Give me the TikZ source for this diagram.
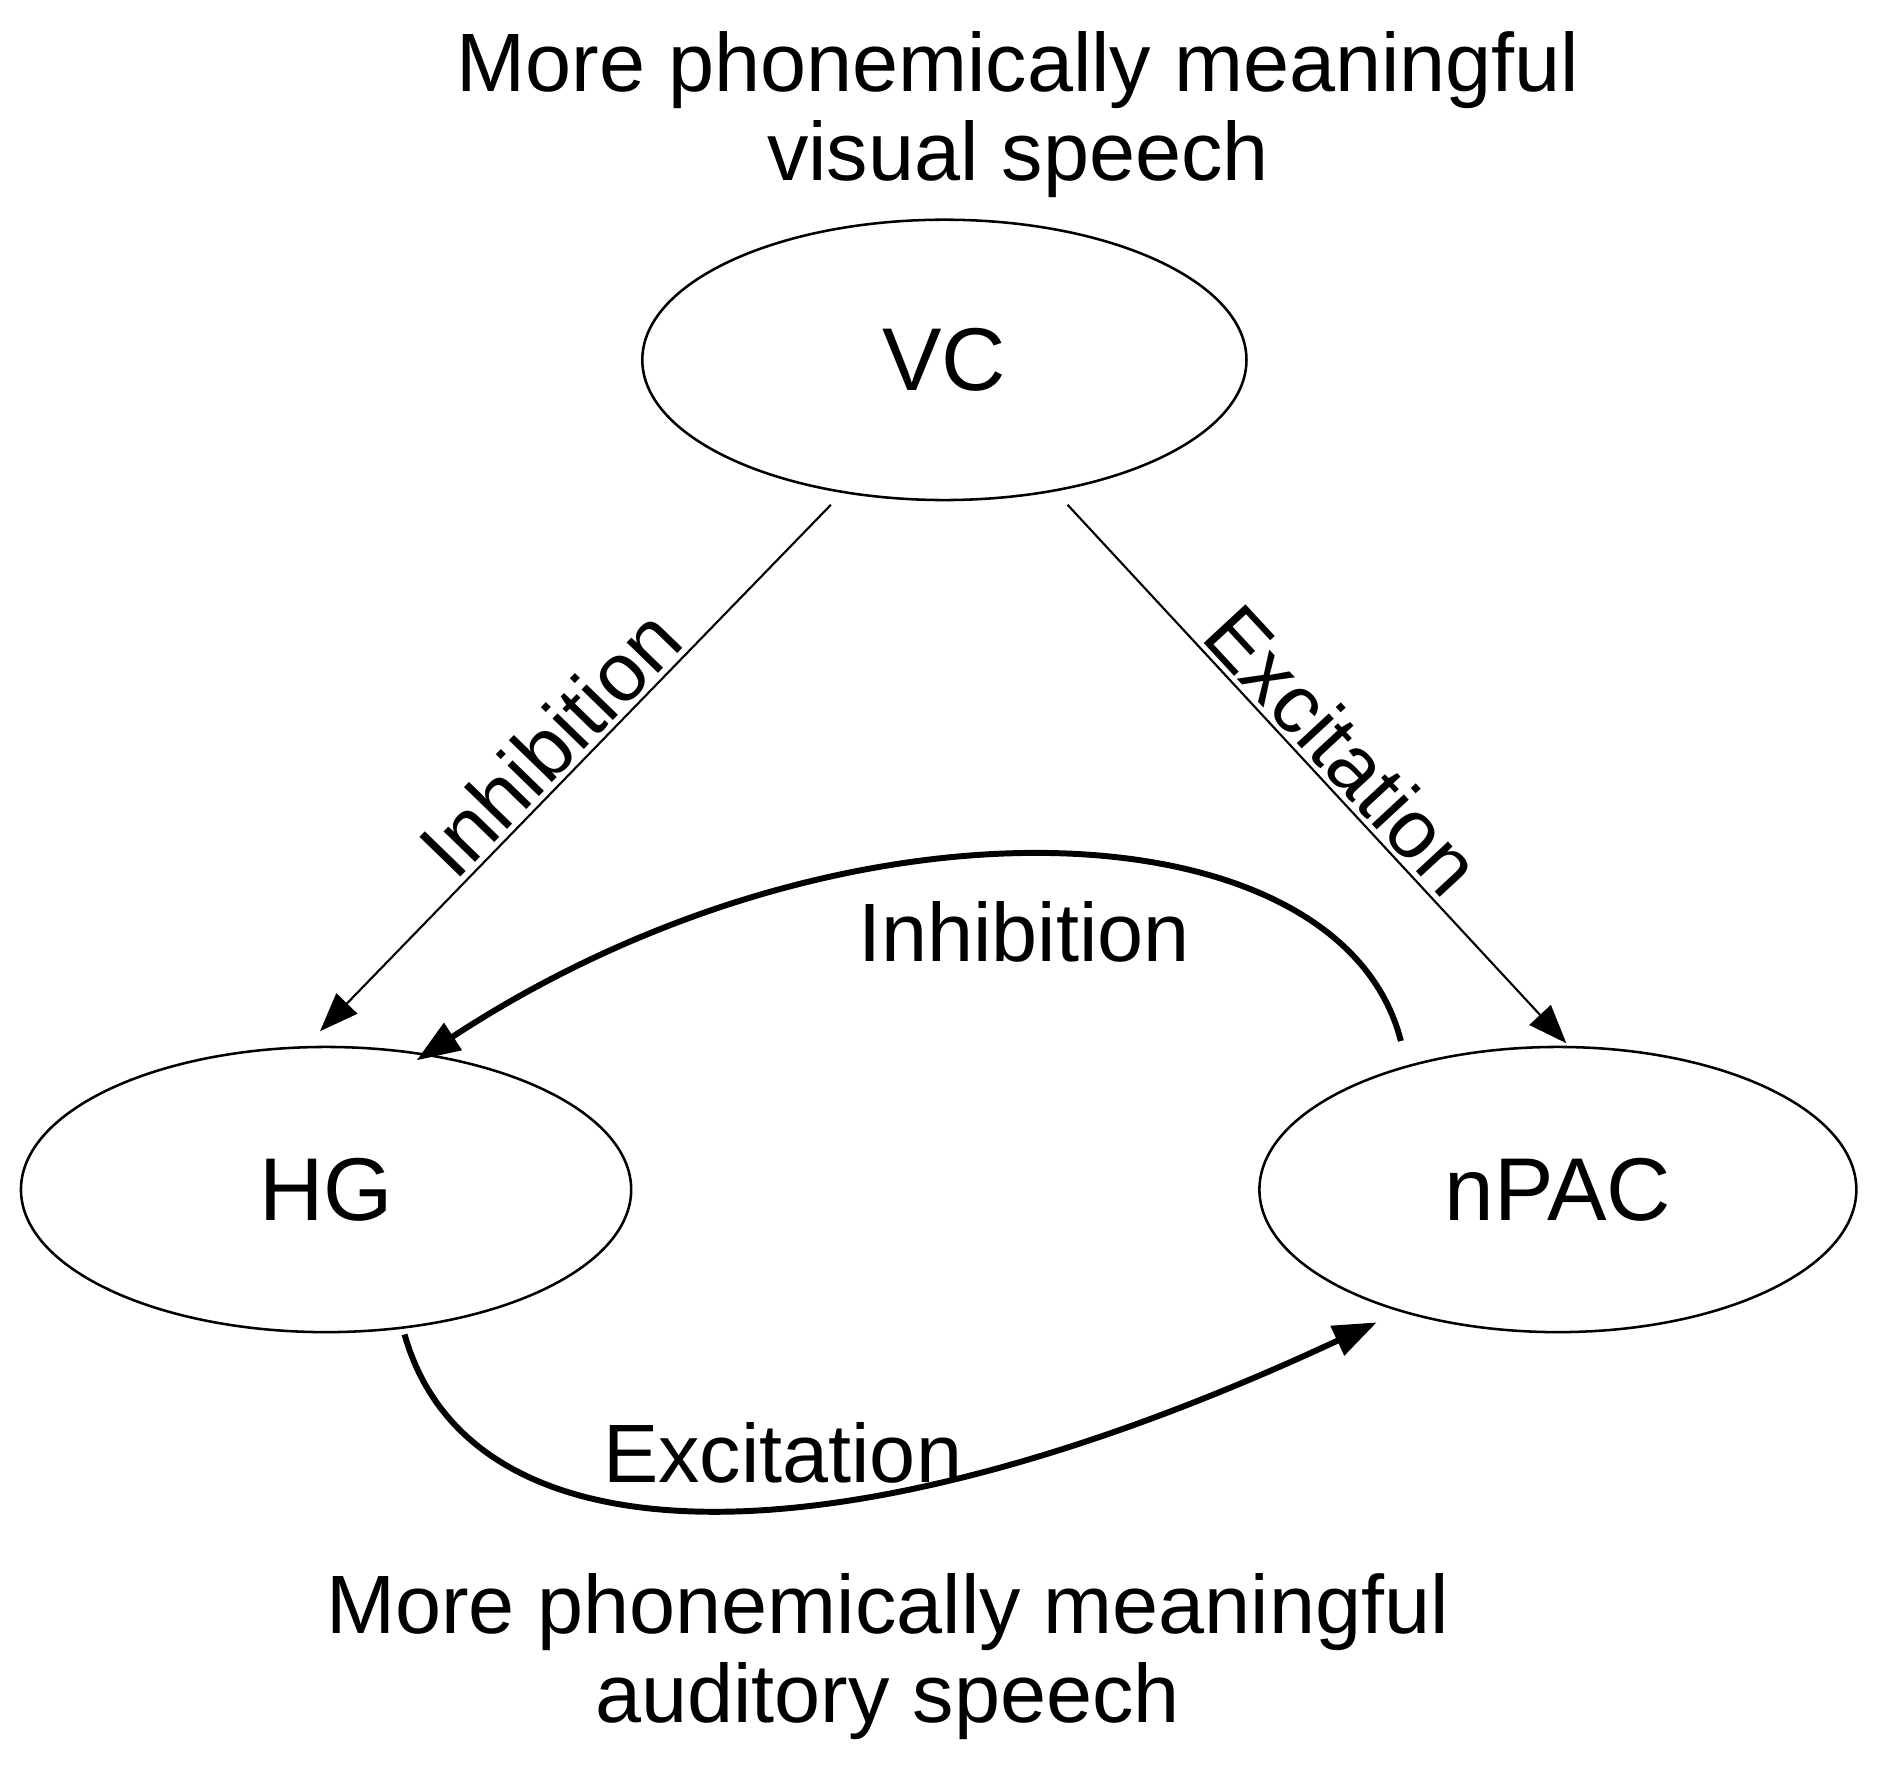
\documentclass[tikz,border=0pt]{standalone}
\usepackage{fontspec}
\setmainfont{Liberation Sans}
\usetikzlibrary{arrows.meta,shapes.geometric,calc}
\begin{document}
\begin{tikzpicture}[x=0.01cm,y=-0.01cm,
  ell/.style={draw,ellipse,line width=0.6pt,font=\fontsize{21}{25}\selectfont},
  lab/.style={font=\fontsize{19.5}{23}\selectfont},
  thin/.style={line width=0.5pt,-{Triangle[length=0.32cm,width=0.24cm]}},
  thick/.style={line width=1.4pt,-{Triangle[length=0.36cm,width=0.26cm]}}]
\useasboundingbox (0,0) rectangle (1565,1461);
\node[lab,align=center] (top) at (843,95) {More phonemically meaningful\\[-2pt]visual speech};
\node[lab,align=center] (bot) at (735,1372) {More phonemically meaningful\\[-2pt]auditory speech};
\node[ell,minimum width=5.0cm,minimum height=2.32cm] (VC) at (782,298) {VC};
\node[ell,minimum width=5.05cm,minimum height=2.36cm] (HG) at (270,985) {HG};
\node[ell,minimum width=4.94cm,minimum height=2.36cm] (nPAC) at (1290,985) {nPAC};
\coordinate (a1) at (688,418);
\coordinate (a2) at ($(HG.north)+(-5,-12)$);
\coordinate (b1) at (884,418);
\coordinate (b2) at ($(nPAC.north)+(7,-2)$);
\coordinate (c1) at (1160,862);
\coordinate (c2) at (345,878);
\coordinate (d1) at (335,1105);
\coordinate (d2) at (1140,1095);
\draw[thin] (a1) -- (a2) node[lab,midway,above,sloped,inner sep=1pt] {Inhibition};
\draw[thin] (b1) -- (b2) node[lab,midway,above,sloped,inner sep=1pt] {Excitation};
\draw[thick] (c1) .. controls (1110,665) and (700,645) .. (c2);
\node[lab] (l3) at (848,772) {Inhibition};
\draw[thick] (d1) .. controls (390,1300) and (700,1300) .. (d2);
\node[lab] (l4) at (648,1203) {Excitation};
\end{tikzpicture}
\end{document}
